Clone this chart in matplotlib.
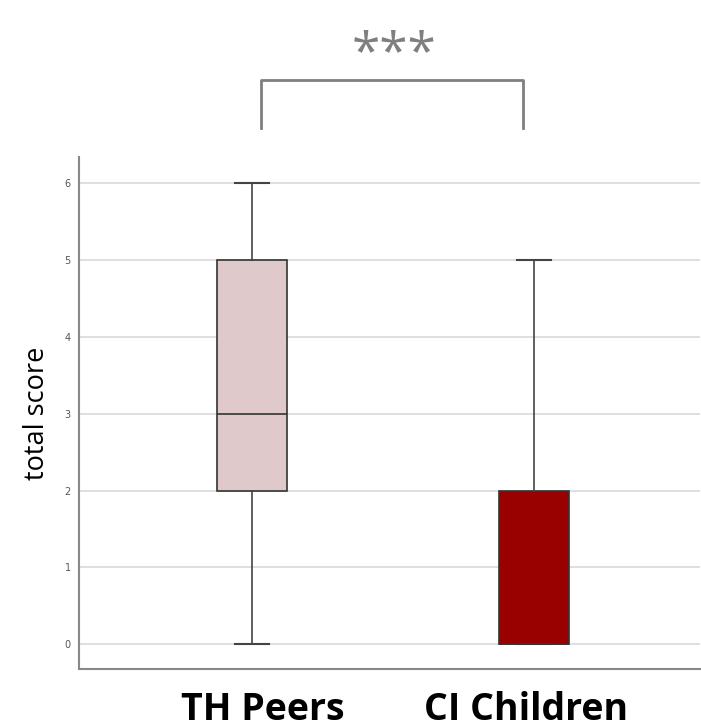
import matplotlib.pyplot as plt

# group summaries
groups = ["TH Peers", "CI Children"]
whislo = [0, 0]
q1 = [2, 0]
med = [3, 0]
q3 = [5, 2]
whishi = [6, 5]
colors = ["#e0c9cb", "#990000"]
yticks = [0, 1, 2, 3, 4, 5, 6]

fig = plt.figure(figsize=(7.01, 7.28), dpi=100)
ax = fig.add_axes([0.1127, 0.081, 0.886, 0.703])

stats = []
for i, g in enumerate(groups):
    stats.append(dict(label=g, whislo=whislo[i], q1=q1[i], med=med[i],
                      q3=q3[i], whishi=whishi[i], fliers=[]))

bp = ax.bxp(stats, positions=[1, 2], widths=0.248, patch_artist=True,
            showfliers=False,
            boxprops=dict(edgecolor="#333333", linewidth=1.2),
            medianprops=dict(color="#333333", linewidth=1.2),
            whiskerprops=dict(color="#444444", linewidth=1.2),
            capprops=dict(color="#444444", linewidth=1.5),
            capwidths=0.124)
for patch, c in zip(bp["boxes"], colors):
    patch.set_facecolor(c)

ax.set_xlim(0.3865, 2.589)
ax.set_ylim(-0.325, 6.34)
ax.set_yticks(yticks)
ax.yaxis.grid(True, color="#d9d9d9", linewidth=1.2)
ax.set_axisbelow(True)
for s in ["top", "right"]:
    ax.spines[s].set_visible(False)
for s in ["left", "bottom"]:
    ax.spines[s].set_color("#888888")
    ax.spines[s].set_linewidth(1.5)
ax.tick_params(axis="y", length=0, pad=6, labelsize=7, labelcolor="#555555")
ax.tick_params(axis="x", length=0, pad=16)
# group labels sit slightly off the box centres in the original
ax.set_xticks([1.039, 1.972])
ax.set_xticklabels(groups, fontsize=27, fontweight="bold", family="Open Sans")
ax.set_ylabel("total score", fontsize=19.5, family="Open Sans", labelpad=10)

# significance bracket
bx = [1.032, 1.032, 1.961, 1.961]
by = [6.716, 7.34, 7.34, 6.716]
ax.plot(bx, by, color="#7f7f7f", linewidth=2, clip_on=False)
ax.text(1.505, 7.35, "***", ha="center", va="bottom", fontsize=37,
        color="#7f7f7f", family="Open Sans")

fig.savefig("out.png", dpi=100)
